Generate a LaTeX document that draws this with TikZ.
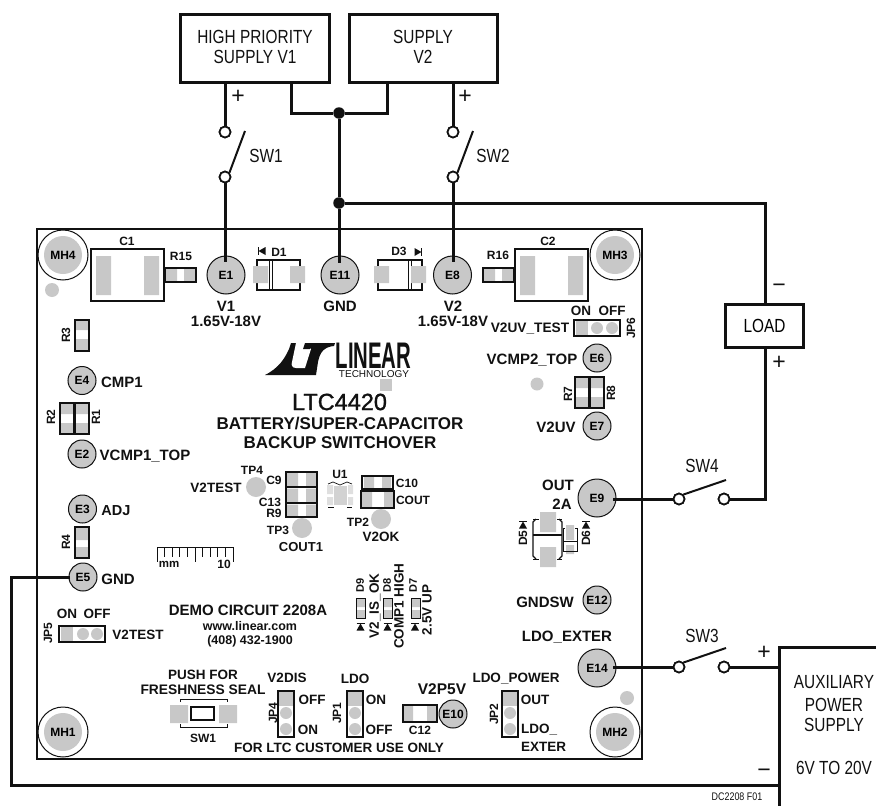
\documentclass[tikz,border=0pt]{standalone}
\usepackage{fontspec}
\setmainfont{Liberation Sans}
\newfontfamily\condfont[FakeStretch=0.81]{Liberation Sans}
\newfontfamily\logofont[FakeStretch=0.55]{Liberation Sans}
\newfontfamily\ltcfont[FakeBold=1.2]{Liberation Sans}
\definecolor{padgray}{HTML}{C8C8C8}
\definecolor{ink}{HTML}{111111}
\newcommand{\fs}[1]{\fontsize{#1}{#1}\selectfont}
\newcommand{\diodeh}[3]{\fill[ink] ({#1+#3*3.5},#2) -- ({#1-#3*3.5},{#2-4}) -- ({#1-#3*3.5},{#2+4}) -- cycle; \draw[ink,line width=1.4pt] ({#1+#3*3.5},{#2-4}) -- ({#1+#3*3.5},{#2+4});}
\newcommand{\diodev}[3]{\fill[ink] (#1,{#2+#3*3.5}) -- ({#1-4},{#2-#3*3.5}) -- ({#1+4},{#2-#3*3.5}) -- cycle; \draw[ink,line width=1.4pt] ({#1-4},{#2+#3*3.5}) -- ({#1+4},{#2+#3*3.5});}
\tikzset{
  netline/.style={draw=ink,line width=3pt,line join=miter},
  sbox/.style={draw=ink,line width=3pt,fill=white,inner sep=0pt,align=center,font=\condfont\fs{19}},
  sw/.style={circle,draw=ink,fill=white,line width=1.7pt,minimum size=11pt,inner sep=0pt},
  arm/.style={draw=ink,line width=2pt},
  dotj/.style={circle,fill=ink,minimum size=11.5pt,inner sep=0pt},
  cond/.style={inner sep=0pt,text=ink,font=\condfont\fs{19},align=center},
  padbig/.style={circle,draw=ink,fill=padgray,line width=1pt,minimum size=38pt,inner sep=0pt,font=\bfseries\fs{12}},
  padsm/.style={circle,draw=ink,fill=padgray,line width=1pt,minimum size=28pt,inner sep=0pt,font=\bfseries\fs{12}},
  tp/.style={circle,fill=padgray,inner sep=0pt},
  ol/.style={draw=ink,line width=1.1pt},
  l/.style={inner sep=0pt,text=ink,font=\bfseries\fs{15},align=center},
  m/.style={inner sep=0pt,text=ink,font=\bfseries\fs{13.5},align=center},
  s/.style={inner sep=0pt,text=ink,font=\bfseries\fs{12},align=center},
  r/.style={rotate=90}
}
\begin{document}
\begin{tikzpicture}[x=1pt,y=-1pt]
\useasboundingbox (0,0) rectangle (876,806);
% board
\draw[ink,line width=1.6pt] (37,229) rectangle (642,759);
% mounting holes
\foreach \n/\x/\y in {MH4/63/255,MH3/615/255,MH1/63/732,MH2/615/732}{
  \draw[ink,line width=1pt,fill=white] (\x,\y) circle (25);
  \node[tp,minimum size=38pt,font=\bfseries\fs{12}] (\n) at (\x,\y) {\n};
}
\foreach \x/\y/\d in {52/290/14,537/384/13,627/698/14}{ \node[tp,minimum size=\d pt] at (\x,\y) {}; }
\fill[padgray] (380,379) rectangle (392,391);
% C1 R15
\fill[padgray] (96,256) rectangle (111,295) (144,256) rectangle (159,295);
\draw[ol,line width=1.3pt] (91,249) rectangle (164,301);
\fill[padgray] (166,269) rectangle (177,281) (184,269) rectangle (195,281);
\draw[ol] (165,268) rectangle (196,282);
\node[s] at (127,241) {C1};
\node[s] at (181,256) {R15};
% D1
\draw[ol] (257,260) rectangle (300,290);
\draw[ol,line width=.9pt] (269,260) -- (269,290) (272,260) -- (272,290);
\fill[padgray] (253,266) rectangle (268,283) (290,266) rectangle (305,283);
\diodeh{262}{251}{-1}
\node[s] at (279,252) {D1};
% D3
\draw[ol] (378,260) rectangle (422,290);
\draw[ol,line width=.9pt] (408,260) -- (408,290) (411,260) -- (411,290);
\fill[padgray] (374,266) rectangle (389,283) (411,266) rectangle (426,283);
\diodeh{418}{252}{1}
\node[s] at (399,251) {D3};
% R16 C2
\fill[padgray] (484,269) rectangle (495,281) (502,269) rectangle (513,281);
\draw[ol] (483,268) rectangle (514,282);
\fill[padgray] (520,256) rectangle (535,295) (568,256) rectangle (583,295);
\draw[ol,line width=1.3pt] (515,249) rectangle (588,301);
\node[s] at (498,255) {R16};
\node[s] at (548,241) {C2};
% E pads
\node[padbig] (E1) at (226,275) {E1};
\node[padbig] (E11) at (340,275) {E11};
\node[padbig] (E8) at (452.5,275) {E8};
\node[padbig] (E9) at (597,498) {E9};
\node[padbig] (E14) at (597,668) {E14};
\node[padsm] (E4) at (82,380.5) {E4};
\node[padsm] (E2) at (82,454) {E2};
\node[padsm] (E3) at (82.5,509) {E3};
\node[padsm] (E5) at (83,577) {E5};
\node[padsm] (E6) at (597,358) {E6};
\node[padsm] (E7) at (597,426) {E7};
\node[padsm] (E12) at (597,600) {E12};
\node[padsm] (E10) at (453,714) {E10};
% pad labels
\node[l] at (226,306) {V1};
\node[l] at (226,321) {1.65V-18V};
\node[l] at (340,306) {GND};
\node[l] at (453,306) {V2};
\node[l] at (453,321) {1.65V-18V};
\node[l] at (122,382) {CMP1};
\node[l] at (145,456) {VCMP1\_TOP};
\node[l,font=\bfseries\fs{14.5}] at (116,511) {ADJ};
\node[l] at (118,579) {GND};
\node[l] at (532,360) {VCMP2\_TOP};
\node[l] at (556,427) {V2UV};
\node[l] at (558,485) {OUT};
\node[l] at (562,504) {2A};
\node[l] at (545,602) {GNDSW};
\node[l] at (567,637) {LDO\_EXTER};
\node[l,font=\bfseries\fs{15.5}] at (442,689) {V2P5V};
% JP6
\fill[padgray] (576,321) rectangle (588,335);
\node[tp,minimum size=12pt] at (597,328) {};
\node[tp,minimum size=12pt] at (612,328) {};
\draw[ol] (574,320) rectangle (620,336);
\node[m] at (581,311) {ON};
\node[m] at (612,311) {OFF};
\node[s,r] at (631,328) {JP6};
\node[m,font=\bfseries\fs{13.7}] at (530,329) {V2UV\_TEST};
% R7 R8
\fill[padgray] (576,378) rectangle (588,388) (576,397) rectangle (588,407) (591,378) rectangle (603,388) (591,397) rectangle (603,407);
\draw[ol] (575,377) rectangle (589,408) (590,377) rectangle (604,408);
\node[s,r] at (568,394) {R7};
\node[s,r] at (611,393) {R8};
% R3
\fill[padgray] (76,321) rectangle (88,330) (76,339) rectangle (88,350);
\draw[ol] (75,320) rectangle (89,351);
\node[s,r] at (66,335) {R3};
% R2 R1
\fill[padgray] (61,404) rectangle (73,414) (61,423) rectangle (73,433) (76,404) rectangle (88,414) (76,423) rectangle (88,433);
\draw[ol] (60,403) rectangle (74,434) (75,403) rectangle (89,434);
\node[s,r] at (51,417) {R2};
\node[s,r] at (96,417) {R1};
% R4
\fill[padgray] (76,528) rectangle (88,540) (76,547) rectangle (88,557);
\draw[ol] (75,527) rectangle (89,558);
\node[s,r] at (66,542) {R4};
% logo
\fill[ink] (265,375) .. controls (279,368) and (285,358) .. (289,349) -- (291,343) -- (335,343) -- (334,346) .. controls (324,347) and (320,352) .. (318,362) -- (316,375) -- cycle;
\fill[white] (296,343) -- (305,343) -- (311,349) -- (305,368) -- (296,368) .. controls (292,368) and (291,365) .. (292,362) -- cycle;
\fill[ink] (305,343) -- (312,343) -- (310,349) -- (303,349) -- cycle;
\node[inner sep=0pt,text=ink,font=\logofont\bfseries\fs{37}] at (373.5,356) {LINEAR};
\node[inner sep=0pt,text=ink,font=\fs{10}] at (374,374) {TECHNOLOGY};
\node[inner sep=0pt,text=ink,font=\ltcfont\fs{23.5}] at (339.5,402) {LTC4420};
\node[l,font=\bfseries\fs{17}] at (340,424) {BATTERY/SUPER-CAPACITOR};
\node[l,font=\bfseries\fs{17}] at (340,443) {BACKUP SWITCHOVER};
% centre parts
\node[tp,minimum size=20pt] at (256,487) {};
\node[tp,minimum size=20pt] at (302,528) {};
\node[tp,minimum size=20pt] at (381,519) {};
\foreach \a/\b in {472/487,487.5/503,503.5/517}{
  \fill[padgray] (287,\a+1) rectangle (298,\b-1) (306,\a+1) rectangle (316,\b-1);
  \draw[ol] (286,\a) rectangle (317,\b);
}
\node[s] at (252,470) {TP4};
\node[m] at (216,488) {V2TEST};
\node[s] at (274,480) {C9};
\node[s] at (270,502) {C13};
\node[s] at (274,513) {R9};
\node[s] at (278,530) {TP3};
\node[m,font=\bfseries\fs{13}] at (301,547) {COUT1};
% U1
\fill[gray!35] (334,486) rectangle (347,505);
\fill[gray!25] (327,485) rectangle (333,494) (327,497) rectangle (333,505) (348,485) rectangle (353,494) (348,497) rectangle (353,505);
\draw[ink,line width=.7pt] (328,484) -- (333,482) .. controls (336,482) and (337,485) .. (340,485) .. controls (343,485) and (344,482) .. (347,482) -- (352,484);
\draw[ink,line width=.7pt] (328,507) -- (334,507) (347,507) -- (352,507);
\node[s] at (340,474) {U1};
% C10 COUT
\fill[padgray] (364,477) rectangle (374,488) (382,477) rectangle (391,488);
\draw[ol] (362,476) rectangle (393,489);
\fill[padgray] (362,492) rectangle (372,507) (384,492) rectangle (393,507);
\draw[ol,line width=1.4pt] (361,491) rectangle (394,508);
\node[s] at (407,483) {C10};
\node[s] at (413,500) {COUT};
\node[s] at (358,522) {TP2};
\node[m] at (381,537) {V2OK};
% D5 D6
\fill[padgray] (540,512) rectangle (556,532) (540,547) rectangle (556,567);
\draw[ol] (536,519) -- (533,522) -- (533,556) -- (536,559) (559,519) -- (562,522) -- (562,556) -- (559,559);
\draw[ink,line width=2pt] (533,535) -- (562,535);
\draw[ink,line width=.8pt] (533,519) -- (539,519) (557,519) -- (562,519) (533,559) -- (539,559) (557,559) -- (562,559);
\fill[padgray] (566,525) rectangle (574,540) (566,545) rectangle (574,554);
\draw[ink,line width=.8pt] (565,528) -- (563,528) -- (563,551) -- (577,551) -- (577,528) -- (575,528);
\draw[ink,line width=.8pt] (563,541) -- (577,541);
\diodev{523}{525}{-1}
\node[s,r] at (523,538) {D5};
\diodev{586}{525}{-1}
\node[s,r] at (586,538) {D6};
% ruler
\draw[ink,line width=.7pt] (157,547) -- (233,547);
\foreach \i in {0,...,10}{ \draw[ink,line width=.7pt] ({157+7.6*\i},547) -- ({157+7.6*\i},557); }
\foreach \i in {0,5,10}{ \draw[ink,line width=.7pt] ({157+7.6*\i},547) -- ({157+7.6*\i},562); }
\node[inner sep=0pt,text=ink,font=\bfseries\fs{11.5}] at (169,564.5) {mm};
\node[s] at (224,564) {10};
% D9 D8 D7
\foreach \x in {356.5,383.5,411}{
  \fill[padgray] (\x,598) rectangle (\x+9,607) (\x,610) rectangle (\x+9,618);
  \draw[ink,line width=.8pt] (\x,598) rectangle (\x+9,618);
}
\diodev{360.5}{627}{-1}
\diodev{387.5}{627}{-1}
\diodev{415}{627}{-1}
\node[s,r,font=\bfseries\fs{11}] at (360,585) {D9};
\node[s,r,font=\bfseries\fs{11}] at (387,585) {D8};
\node[s,r,font=\bfseries\fs{11}] at (413,585) {D7};
\node[m,r] at (375,606) {V2\_IS\_OK};
\node[m,r] at (399,606) {COMP1 HIGH};
\node[m,r] at (427,610) {2.5V UP};
% bottom text
\node[l] at (248,610) {DEMO CIRCUIT 2208A};
\node[m,font=\bfseries\fs{12.5}] at (250,626) {www.linear.com};
\node[m,font=\bfseries\fs{12.5}] at (250,641) {(408) 432-1900};
% JP5
\fill[padgray] (61,627) rectangle (73,641);
\node[tp,minimum size=12pt] at (83,634) {};
\node[tp,minimum size=12pt] at (97,634) {};
\draw[ol] (59,626) rectangle (105,642);
\node[m] at (67,614) {ON};
\node[m] at (97,614) {OFF};
\node[s,r] at (48,633) {JP5};
\node[m] at (138,635) {V2TEST};
% SW1 seal
\fill[padgray] (170,705) rectangle (188,723) (219,705) rectangle (237,723);
\draw[ol] (191,707) rectangle (214,720);
\draw[ink,line width=.9pt] (180,702) -- (180,699) -- (227,699) -- (227,702) (180,724) -- (180,727) -- (227,727) -- (227,724);
\node[m] at (203,675) {PUSH FOR};
\node[m,font=\bfseries\fs{13.8}] at (203,690) {FRESHNESS SEAL};
\node[s] at (203,738) {SW1};
% JP4 JP1 JP2
\foreach \x in {279,348,503}{
  \fill[padgray] (\x,692) rectangle (\x+14,706);
  \node[tp,minimum size=12pt] at (\x+7,713) {};
  \node[tp,minimum size=12pt] at (\x+7,729) {};
  \draw[ol] (\x-1,691) rectangle (\x+15,737);
}
\node[m] at (287,678) {V2DIS};
\node[m] at (312,700) {OFF};
\node[m] at (308,730) {ON};
\node[s,r] at (273,713) {JP4};
\node[m] at (355,679) {LDO};
\node[m] at (376,700) {ON};
\node[m] at (379,730) {OFF};
\node[s,r] at (337,713) {JP1};
\node[m] at (516,679) {LDO\_POWER};
\node[m] at (535,700) {OUT};
\node[m,anchor=west] at (521,730) {LDO\_};
\node[m,anchor=west] at (521,747) {EXTER};
\node[s,r] at (494,714) {JP2};
\node[m] at (339,748) {FOR LTC CUSTOMER USE ONLY};
% C12
\fill[padgray] (404,706) rectangle (413,721) (427,706) rectangle (436,721);
\draw[ol,line width=1.3pt] (403,705) rectangle (437,722);
\node[s] at (420,730) {C12};
% supplies
\node[sbox,minimum width=149pt,minimum height=68pt] (V1) at (255,48.5) {};
\node[sbox,minimum width=148pt,minimum height=68pt] (V2) at (423.5,48.5) {};
\node[cond] at (255,37) {HIGH PRIORITY};
\node[cond] at (255,57) {SUPPLY V1};
\node[cond] at (423,37) {SUPPLY};
\node[cond] at (423,57) {V2};
\node[sbox,minimum width=78pt,minimum height=43pt] (LOAD) at (764.5,326) {LOAD};
% switches
\node[sw] (S1a) at (225,132) {};
\node[sw] (S1b) at (225,177) {};
\node[sw] (S2a) at (453,132) {};
\node[sw] (S2b) at (453,177) {};
\node[sw] (S4a) at (679,499) {};
\node[sw] (S4b) at (724,499) {};
\node[sw] (S3a) at (679,667) {};
\node[sw] (S3b) at (724,667) {};
% nets
\coordinate (E1t) at (225,262);
\coordinate (E8t) at (453,262);
\coordinate (E11t) at (339,263);
\coordinate (E9r) at (613,499);
\coordinate (E14r) at (613,667);
\coordinate (E5l) at (70,577);
\coordinate (V1a) at (225,83);
\coordinate (V1b) at (291,83);
\coordinate (V2a) at (387,83);
\coordinate (V2b) at (453,83);
\coordinate (Lt) at (765,305);
\coordinate (Lb) at (765,348);
\coordinate (Aa) at (779,667);
\coordinate (Ab) at (779,785);
\coordinate (Bl) at (11,785);
\coordinate (Lc) at (765,499);
\node[dotj] (J1) at (339,113) {};
\node[dotj] (J2) at (339,203) {};
\draw[netline] (V1a) -- (S1a);
\draw[netline] (V2b) -- (S2a);
\draw[netline] (S1b) -- (E1t);
\draw[netline] (S2b) -- (E8t);
\draw[netline] (V1b) |- (J1) -| (V2a);
\draw[netline] (J1) -- (J2) -- (E11t);
\draw[netline] (J2) -| (Lt);
\draw[netline] (Lb) -- (Lc) -- (S4b);
\draw[netline] (E9r) -- (S4a);
\draw[netline] (E14r) -- (S3a);
\draw[netline] (S3b) -- (Aa);
\draw[netline] (E5l) -| (Bl) -- (Ab);
% aux box
\draw[ink,line width=3pt] (880,647) -- (779,647) -- (779,810);
% redraw switch heads over wires
\foreach \n in {S1a,S1b,S2a,S2b,S4a,S4b,S3a,S3b}{ \node[sw] at (\n) {}; }
\draw[arm] (S1b.north east) -- (245,131);
\draw[arm] (S2b.north east) -- (473,131);
\draw[arm] (S4a.north east) -- (726,480);
\draw[arm] (S3a.north east) -- (726,648);
\node[cond] at (266,156) {SW1};
\node[cond] at (493,156) {SW2};
\node[cond] at (702,466) {SW4};
\node[cond] at (702,636) {SW3};
\node[cond,font=\fs{23}] at (238,97) {+};
\node[cond,font=\fs{23}] at (465,97) {+};
\node[cond,font=\fs{23}] at (779,288) {−};
\node[cond,font=\fs{23}] at (779,363) {+};
\node[cond,font=\fs{23}] at (764,653) {+};
\node[cond,font=\fs{23}] at (764,773) {−};
\node[cond] at (834,682) {AUXILIARY};
\node[cond] at (834,705) {POWER};
\node[cond] at (834,725) {SUPPLY};
\node[cond] at (834,768) {6V TO 20V};
\node[cond,font=\condfont\fs{11}] at (737,797) {DC2208 F01};
\end{tikzpicture}
\end{document}
